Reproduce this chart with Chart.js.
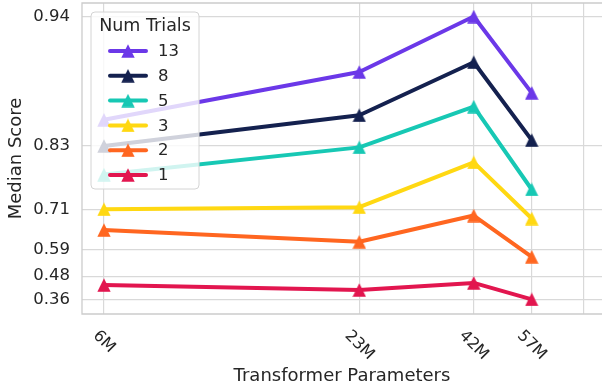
<!DOCTYPE html>
<html>
<head>
<meta charset="utf-8">
<script src="https://cdn.jsdelivr.net/npm/chart.js@4.4.1/dist/chart.umd.min.js"></script>
<style>
  html, body { margin: 0; padding: 0; background: #ffffff; overflow: hidden; }
  #wrap { width: 602px; height: 387px; }
  canvas { display: block; }
</style>
</head>
<body>
<div id="wrap"><canvas id="chart" width="602" height="387"></canvas></div>
<script>
// Model sizes, in millions of parameters
const PARAMS_M = [6, 23, 42, 57];
const X_TICKS = [6, 23, 42, 57, 75];
const X_TICK_LABELS = ['6M', '23M', '42M', '57M', ''];

const Y_TICKS = [0.36, 0.48, 0.59, 0.71, 0.83, 0.94];
const Y_TICK_LABELS = ['0.36', '0.48', '0.59', '0.71', '0.83', '0.94'];

// Median score per model size, one list per number of trials
const TRIAL_LABELS = ['13', '8', '5', '3', '2', '1'];
const SCORE_13 = [0.863, 0.907, 0.940, 0.890];
const SCORE_8  = [0.830, 0.868, 0.914, 0.838];
const SCORE_5  = [0.784, 0.828, 0.877, 0.755];
const SCORE_3  = [0.710, 0.715, 0.805, 0.686];
const SCORE_2  = [0.653, 0.616, 0.694, 0.562];
const SCORE_1  = [0.437, 0.412, 0.448, 0.360];
const SERIES = [SCORE_13, SCORE_8, SCORE_5, SCORE_3, SCORE_2, SCORE_1];

const COLORS = ['#6b38e8', '#14214f', '#17c8b4', '#ffd812', '#ff6620', '#e2164f'];

const FONT = '"DejaVu Sans", "Liberation Sans", sans-serif';
const TEXT = '#262626';
const GRID = '#d9d9d9';
const FRAME = '#cccccc';
const NONE = 'rgba(0,0,0,0)';

// The score axis is stretched toward 1: it is drawn on (1 - score)^-k
const STRETCH = 0.06;
const warp = v => Math.pow(1 - v, -STRETCH);
const Y_MIN = 0.27, Y_MAX = 0.946;
const X_MIN = 5.345, X_MAX = 82.5;

// Upward triangle marker, centred on its bounding box
function triangleMarker(color, size) {
  const c = document.createElement('canvas');
  c.width = size; c.height = size;
  const g = c.getContext('2d');
  g.fillStyle = color;
  g.beginPath();
  g.moveTo(size / 2, 0.3);
  g.lineTo(size - 0.3, size - 0.3);
  g.lineTo(0.3, size - 0.3);
  g.closePath();
  g.fill();
  return c;
}
const MARKERS = COLORS.map(c => triangleMarker(c, 14));

// Plot frame: top, left and bottom edges (the right edge runs off the canvas)
const framePlugin = {
  id: 'frame',
  beforeDatasetsDraw(chart) {
    const { ctx, chartArea: a } = chart;
    ctx.save();
    ctx.strokeStyle = FRAME;
    ctx.lineWidth = 1.3;
    ctx.beginPath();
    ctx.moveTo(a.right + 2, a.top);
    ctx.lineTo(a.left, a.top);
    ctx.lineTo(a.left, a.bottom);
    ctx.lineTo(a.right + 2, a.bottom);
    ctx.stroke();
    ctx.restore();
  }
};

// Model-size labels, turned clockwise under each tick
const xLabelPlugin = {
  id: 'xTickLabels',
  afterDraw(chart) {
    const { ctx, chartArea: a } = chart;
    const xs = chart.scales.x;
    ctx.save();
    ctx.font = '16px ' + FONT;
    ctx.fillStyle = TEXT;
    ctx.textAlign = 'center';
    ctx.textBaseline = 'middle';
    X_TICKS.forEach((v, i) => {
      const label = X_TICK_LABELS[i];
      if (!label) return;
      const w = ctx.measureText(label).width;
      const px = xs.getPixelForValue(v);
      const cy = a.bottom + 15 + (w + 12) * Math.SQRT1_2 / 2;
      ctx.save();
      ctx.translate(px, cy);
      ctx.rotate(Math.PI / 4);
      ctx.fillText(label, 0, 0);
      ctx.restore();
    });
    ctx.restore();
  }
};

// Boxed legend in the upper-left corner of the plot
const legendPlugin = {
  id: 'trialsLegend',
  afterDatasetsDraw(chart) {
    const { ctx, chartArea: a } = chart;
    const bx = a.left + 9, by = a.top + 9, bw = 108, bh = 177, r = 4;
    ctx.save();
    ctx.beginPath();
    ctx.roundRect(bx, by, bw, bh, r);
    ctx.fillStyle = 'rgba(255,255,255,0.8)';
    ctx.fill();
    ctx.strokeStyle = '#d4d4d4';
    ctx.lineWidth = 1;
    ctx.stroke();

    ctx.fillStyle = TEXT;
    ctx.font = '17.5px ' + FONT;
    ctx.textAlign = 'center';
    ctx.textBaseline = 'middle';
    ctx.fillText('Num Trials', bx + bw / 2, by + 14);

    ctx.font = '16.5px ' + FONT;
    ctx.textAlign = 'left';
    chart.data.datasets.forEach((ds, i) => {
      const y = by + 39 + i * 24.8;
      ctx.strokeStyle = ds.borderColor;
      ctx.lineWidth = 4;
      ctx.lineCap = 'round';
      ctx.beginPath();
      ctx.moveTo(bx + 19, y);
      ctx.lineTo(bx + 55, y);
      ctx.stroke();
      const m = ds.pointStyle;
      ctx.drawImage(m, bx + 37 - m.width / 2, y - m.height / 2);
      ctx.fillStyle = TEXT;
      ctx.fillText(ds.label, bx + 67, y + 1);
    });
    ctx.restore();
  }
};

new Chart(document.getElementById('chart'), {
  type: 'line',
  data: {
    datasets: SERIES.map((s, i) => ({
      label: TRIAL_LABELS[i],
      data: PARAMS_M.map((p, j) => ({ x: p, y: warp(s[j]) })),
      borderColor: COLORS[i],
      backgroundColor: COLORS[i],
      borderWidth: 4,
      borderCapStyle: 'round',
      borderJoinStyle: 'round',
      pointStyle: MARKERS[i],
      pointRadius: 7,
      tension: 0
    }))
  },
  options: {
    responsive: false,
    animation: false,
    devicePixelRatio: 1,
    layout: { autoPadding: false, padding: { top: 3, right: 0, bottom: 0, left: 0 } },
    plugins: { legend: { display: false }, tooltip: { enabled: false } },
    scales: {
      x: {
        type: 'logarithmic',
        min: X_MIN,
        max: X_MAX,
        afterBuildTicks: s => { s.ticks = X_TICKS.map(v => ({ value: v })); },
        afterFit: s => { s.height = 73; s.paddingLeft = 0; s.paddingRight = 0; },
        ticks: { display: false },
        grid: {
          // only the model-size ticks get a vertical grid line
          color: c => (c.tick && X_TICKS.includes(c.tick.value)) ? GRID : NONE,
          lineWidth: 1.2,
          drawTicks: false
        },
        border: { display: false },
        title: {
          display: true,
          text: 'Transformer Parameters',
          color: TEXT,
          font: { family: FONT, size: 18 },
          padding: { top: 2, bottom: 0 }
        }
      },
      y: {
        type: 'linear',
        min: warp(Y_MIN),
        max: warp(Y_MAX),
        afterBuildTicks: s => { s.ticks = Y_TICKS.map(v => ({ value: warp(v) })); },
        afterFit: s => { s.width = 82; s.paddingTop = 0; s.paddingBottom = 0; },
        ticks: {
          callback: (v, i) => Y_TICK_LABELS[i],
          color: TEXT,
          font: { family: FONT, size: 16.5 },
          padding: 12
        },
        grid: { color: GRID, lineWidth: 1.2, drawTicks: false },
        border: { display: false },
        title: {
          display: true,
          text: 'Median Score',
          color: TEXT,
          font: { family: FONT, size: 18 },
          padding: { top: 6, bottom: 0 }
        }
      }
    }
  },
  plugins: [framePlugin, xLabelPlugin, legendPlugin]
});
</script>
</body>
</html>
